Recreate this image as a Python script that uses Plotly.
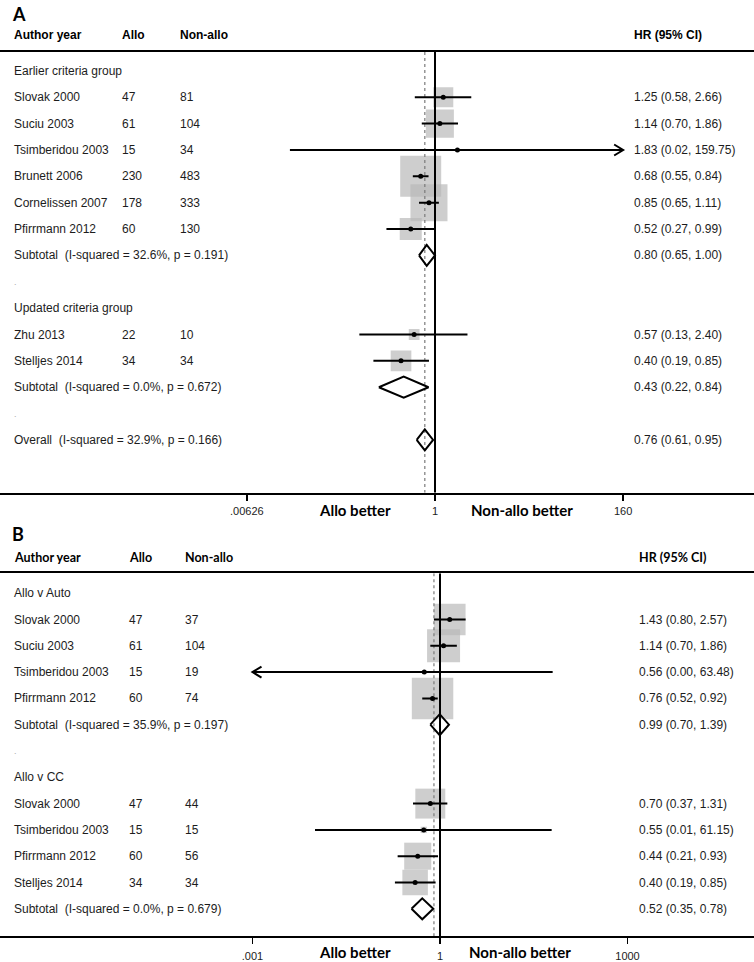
import plotly.graph_objects as go
import math

W, H = 754, 962

# ---------------- Panel A data ----------------
a_study_names = ["Slovak 2000", "Suciu 2003", "Tsimberidou 2003", "Brunett 2006",
                 "Cornelissen 2007", "Pfirrmann 2012", "Zhu 2013", "Stelljes 2014"]
a_study_rows = [1, 2, 3, 4, 5, 6, 10, 11]
a_allo = [47, 61, 15, 230, 178, 60, 22, 34]
a_nonallo = [81, 104, 34, 483, 333, 130, 10, 34]
a_hr = [1.25, 1.14, 1.83, 0.68, 0.85, 0.52, 0.57, 0.40]
a_lo = [0.58, 0.70, 0.02, 0.55, 0.65, 0.27, 0.13, 0.19]
a_hi = [2.66, 1.86, 159.75, 0.84, 1.11, 0.99, 2.40, 0.85]
a_weight = [7.6, 14.9, 0.2, 31.9, 26.0, 9.2, 2.2, 8.1]

a_pool_labels = ["Subtotal  (I-squared = 32.6%, p = 0.191)",
                 "Subtotal  (I-squared = 0.0%, p = 0.672)",
                 "Overall  (I-squared = 32.9%, p = 0.166)"]
a_pool_rows = [7, 12, 14]
a_pool_hr = [0.80, 0.43, 0.76]
a_pool_lo = [0.65, 0.22, 0.61]
a_pool_hi = [1.00, 0.84, 0.95]
a_group_labels = ["Earlier criteria group", "Updated criteria group"]
a_group_rows = [0, 9]
a_spacer_rows = [8, 13]
a_overall = 0.76
a_tickvals = [0.00626, 1, 1 / 0.00626]
a_ticktext = [".00626", "1", "160"]

# ---------------- Panel B data ----------------
b_study_names = ["Slovak 2000", "Suciu 2003", "Tsimberidou 2003", "Pfirrmann 2012",
                 "Slovak 2000", "Tsimberidou 2003", "Pfirrmann 2012", "Stelljes 2014"]
b_study_rows = [1, 2, 3, 4, 8, 9, 10, 11]
b_allo = [47, 61, 15, 60, 47, 15, 60, 34]
b_nonallo = [37, 104, 19, 74, 44, 15, 56, 34]
b_hr = [1.43, 1.14, 0.56, 0.76, 0.70, 0.55, 0.44, 0.40]
b_lo = [0.80, 0.70, 0.00, 0.52, 0.37, 0.01, 0.21, 0.19]
b_hi = [2.57, 1.86, 63.48, 0.92, 1.31, 61.15, 0.93, 0.85]
b_weight = [16.4, 17.7, 0.15, 28.0, 14.6, 0.65, 11.9, 10.6]

b_pool_labels = ["Subtotal  (I-squared = 35.9%, p = 0.197)",
                 "Subtotal  (I-squared = 0.0%, p = 0.679)"]
b_pool_rows = [5, 12]
b_pool_hr = [0.99, 0.52]
b_pool_lo = [0.70, 0.35]
b_pool_hi = [1.39, 0.78]
b_group_labels = ["Allo v Auto", "Allo v CC"]
b_group_rows = [0, 7]
b_spacer_rows = [6]
b_overall = 0.80
b_tickvals = [0.001, 1, 1000]
b_ticktext = [".001", "1", "1000"]

# ---------------- styling / layout constants ----------------
TXT = "#1c1c1c"
ROW_FONT = dict(family="Liberation Sans, Arial, sans-serif", size=12, color=TXT)
BOX_COLOR = "#b9b9b9"

fig = go.Figure()
annotations = []


def px2paper_x(px):
    return px / W


def px2paper_y(py):
    return 1 - py / H


def build_panel(xa, ya, names, rows, allo, nonallo, hr, lo, hi, weight,
                pool_labels, pool_rows, pool_hr, pool_lo, pool_hi,
                group_labels, group_rows, spacer_rows, overall,
                tickvals, ticktext, cfg):
    lim_lo, lim_hi = tickvals[0], tickvals[-1]
    ppd = cfg["ppd"]
    rpx = cfg["row_px"]
    y_top = (cfg["top_px"] - cfg["row0_px"]) / rpx
    y_bot = (cfg["bot_px"] - cfg["row0_px"]) / rpx
    xkw = dict(xaxis=xa, yaxis=ya, showlegend=False, hoverinfo="skip")

    # weight boxes
    fig.add_trace(go.Scatter(
        x=hr, y=rows, mode="markers",
        marker=dict(symbol="square", color=BOX_COLOR,
                    size=[cfg["box_k"] * math.sqrt(w) for w in weight],
                    line=dict(width=0)), **xkw))

    # null line and pooled dashed line
    fig.add_trace(go.Scatter(x=[overall, overall], y=[y_top, y_bot], mode="lines",
                             line=dict(color="#7a7a7a", width=1.2, dash="3px,3px"), **xkw))
    fig.add_trace(go.Scatter(x=[1, 1], y=[y_top, y_bot], mode="lines",
                             line=dict(color="black", width=2), **xkw))

    # confidence intervals (clipped to axis limits) + arrows
    cx, cy, ax_, ay_ = [], [], [], []
    dx = 9 / ppd
    dy = 5.5 / rpx
    for r, l, h in zip(rows, lo, hi):
        l_d = max(l, lim_lo)
        h_d = min(h, lim_hi)
        cx += [l_d, h_d, None]
        cy += [r, r, None]
        if h > lim_hi:
            t = math.log10(lim_hi)
            ax_ += [10 ** (t - dx), lim_hi, 10 ** (t - dx), None]
            ay_ += [r - dy, r, r + dy, None]
        if l < lim_lo:
            t = math.log10(lim_lo)
            ax_ += [10 ** (t + dx), lim_lo, 10 ** (t + dx), None]
            ay_ += [r - dy, r, r + dy, None]
    fig.add_trace(go.Scatter(x=cx, y=cy, mode="lines",
                             line=dict(color="black", width=2), **xkw))
    if ax_:
        fig.add_trace(go.Scatter(x=ax_, y=ay_, mode="lines",
                                 line=dict(color="black", width=2), **xkw))

    # point estimates
    fig.add_trace(go.Scatter(x=hr, y=rows, mode="markers",
                             marker=dict(symbol="circle", color="black", size=5), **xkw))

    # diamonds
    dxs, dys = [], []
    hh = 0.4
    for r, e, l, h in zip(pool_rows, pool_hr, pool_lo, pool_hi):
        dxs += [l, e, h, e, l, None]
        dys += [r, r - hh, r, r + hh, r, None]
    fig.add_trace(go.Scatter(x=dxs, y=dys, mode="lines",
                             line=dict(color="black", width=2), **xkw))

    yref = ya
    cols = cfg["cols"]

    def txt(xpx, row, s, font=ROW_FONT):
        annotations.append(dict(x=px2paper_x(xpx), xref="paper", y=row, yref=yref,
                                text=s, showarrow=False, xanchor="left",
                                yanchor="middle", font=font))

    for r, s in zip(group_rows, group_labels):
        txt(cols[0], r, s)
    for r in spacer_rows:
        txt(cols[0], r, ".", dict(family="Liberation Sans", size=9, color="#aaaaaa"))
    for r, s, a, n, e, l, h in zip(rows, names, allo, nonallo, hr, lo, hi):
        txt(cols[0], r, s)
        txt(cols[1], r, str(a))
        txt(cols[2], r, str(n))
        txt(cols[3], r, f"{e:.2f} ({l:.2f}, {h:.2f})")
    for r, s, e, l, h in zip(pool_rows, pool_labels, pool_hr, pool_lo, pool_hi):
        txt(cols[0], r, s)
        txt(cols[3], r, f"{e:.2f} ({l:.2f}, {h:.2f})")

    # headers
    hy = px2paper_y(cfg["header_px"])
    for xpx, s in zip(cols, ["Author year", "Allo", "Non-allo", "HR (95% CI)"]):
        annotations.append(dict(x=px2paper_x(xpx), xref="paper", y=hy, yref="paper",
                                text="<b>%s</b>" % s, showarrow=False, xanchor="left",
                                yanchor="middle", font=cfg["header_font"]))
    annotations.append(dict(x=px2paper_x(10), xref="paper", y=px2paper_y(cfg["letter_px"]),
                            yref="paper", text="<b>%s</b>" % cfg["letter"], showarrow=False,
                            xanchor="left", yanchor="middle",
                            font=dict(family="Lato, sans-serif", size=18, color="black")))
    cap_font = dict(family="Lato, sans-serif", size=15, color="black")
    cy_p = px2paper_y(cfg["caption_px"])
    annotations.append(dict(x=px2paper_x(cfg["allo_cx"]), xref="paper", y=cy_p, yref="paper",
                            text="<b>Allo better</b>", showarrow=False, xanchor="center",
                            yanchor="middle", font=cap_font))
    annotations.append(dict(x=px2paper_x(cfg["non_cx"]), xref="paper", y=cy_p, yref="paper",
                            text="<b>Non-allo better</b>", showarrow=False, xanchor="center",
                            yanchor="middle", font=cap_font))

    x1 = cfg["x1_px"]
    xrange = [-x1 / ppd, (W - x1) / ppd]
    xaxis = dict(domain=[0, 1], anchor=ya, type="log", range=xrange,
                 tickvals=tickvals, ticktext=ticktext, ticks="outside", ticklen=6,
                 tickwidth=1.5, tickcolor="black", showline=True, linewidth=2,
                 linecolor="black", mirror=True, showgrid=False, zeroline=False,
                 ticklabelstandoff=cfg["standoff"],
                 tickfont=dict(family="Liberation Sans, Arial", size=11, color=TXT))
    yaxis = dict(domain=[px2paper_y(cfg["bot_px"]), px2paper_y(cfg["top_px"])],
                 anchor=xa, range=[y_bot, y_top], visible=False, showgrid=False,
                 zeroline=False)
    return xaxis, yaxis


cfg_a = dict(ppd=85.39, x1_px=435, row_px=26.36, row0_px=70.9, top_px=52, bot_px=492.7,
             box_k=7.26, cols=[12, 120, 178, 632], header_px=35, letter="A", letter_px=14,
             caption_px=510, allo_cx=355, non_cx=522, standoff=1,
             header_font=dict(family="Liberation Sans, Arial", size=12, color="black"))
cfg_b = dict(ppd=62.5, x1_px=440, row_px=26.3, row0_px=593.2, top_px=573.3, bot_px=936,
             box_k=7.84, cols=[12, 127, 183, 637], header_px=557, letter="B", letter_px=534,
             caption_px=952, allo_cx=355, non_cx=520, standoff=3,
             header_font=dict(family="Lato, sans-serif", size=12.5, color="black"))

xa_layout, ya_layout = build_panel(
    "x", "y", a_study_names, a_study_rows, a_allo, a_nonallo, a_hr, a_lo, a_hi, a_weight,
    a_pool_labels, a_pool_rows, a_pool_hr, a_pool_lo, a_pool_hi,
    a_group_labels, a_group_rows, a_spacer_rows, a_overall, a_tickvals, a_ticktext, cfg_a)
xb_layout, yb_layout = build_panel(
    "x2", "y2", b_study_names, b_study_rows, b_allo, b_nonallo, b_hr, b_lo, b_hi, b_weight,
    b_pool_labels, b_pool_rows, b_pool_hr, b_pool_lo, b_pool_hi,
    b_group_labels, b_group_rows, b_spacer_rows, b_overall, b_tickvals, b_ticktext, cfg_b)

fig.update_layout(
    width=W, height=H, margin=dict(l=0, r=0, t=0, b=0),
    paper_bgcolor="white", plot_bgcolor="white", showlegend=False,
    xaxis=xa_layout, yaxis=ya_layout, xaxis2=xb_layout, yaxis2=yb_layout,
    annotations=annotations,
)

fig.write_html("out.html", config={"displayModeBar": False, "staticPlot": True},
               post_script="document.body.style.margin='0';document.body.style.overflow='hidden';")
